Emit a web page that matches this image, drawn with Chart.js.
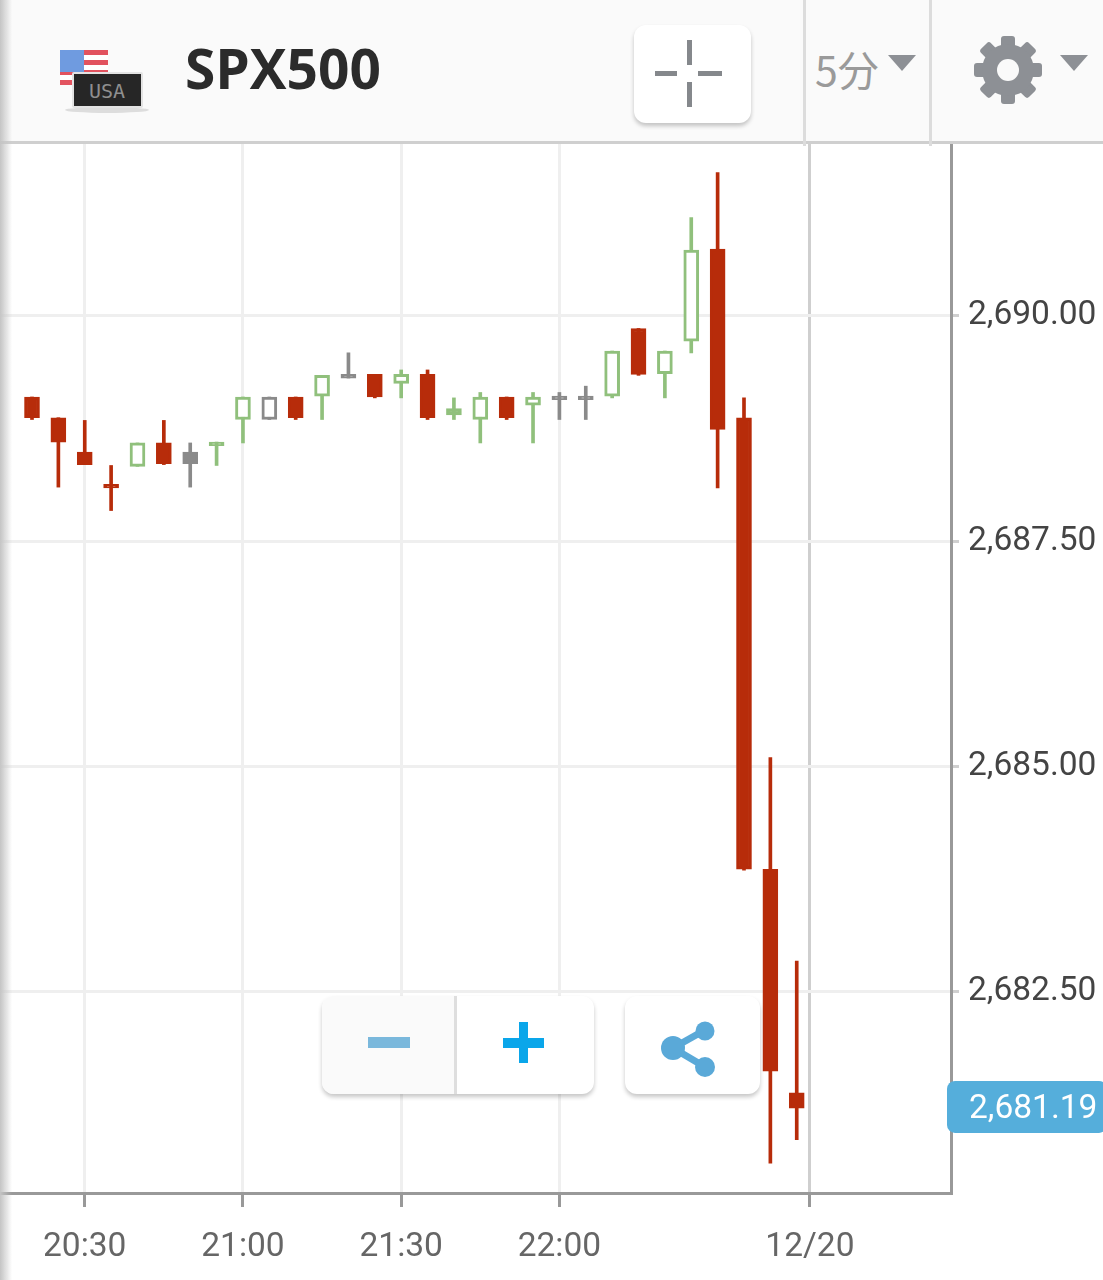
<!DOCTYPE html>
<html>
<head>
<meta charset="utf-8">
<script src="https://cdn.jsdelivr.net/npm/chart.js@4"></script>
<style>
  html, body { margin: 0; padding: 0; background: #fff; }
  #wrap { position: relative; width: 1103px; height: 1280px; overflow: hidden; }
  #priceChart { position: absolute; left: 0; top: 0; }
  .abs { position: absolute; }
  #header { left: 0; top: 0; width: 1103px; height: 141px; background: #fafafa; border-bottom: 3px solid #cfcfcf; }
  #title { left: 185px; top: 30px; font: bold 55px "Open Sans", sans-serif; color: #2b2b2b; line-height: 75px; }
  .sep { top: 0; width: 3px; height: 146px; background: #dcdcdc; }
  #interval { left: 815px; top: 39px; font: 41px "Noto Sans CJK JP", sans-serif; color: #9a9a9a; line-height: 58px; }
  .btn { background: #fff; border-radius: 12px; box-shadow: 0 3px 4px rgba(0,0,0,.22); }
  #shade { left: 0; top: 0; width: 12px; height: 1280px; background: linear-gradient(to right, #c4c4c4, rgba(255,255,255,0)); }
</style>
</head>
<body>
<div id="wrap">
  <canvas id="priceChart" width="1103" height="1280"></canvas>

  <div id="header" class="abs"></div>
  <svg class="abs" style="left:55px;top:45px" width="100" height="70" viewBox="0 0 100 70">
    <rect x="5" y="5" width="48" height="35" fill="#fff"/>
    <g fill="#e2535f">
      <rect x="5" y="5" width="48" height="5"/><rect x="5" y="15" width="48" height="5"/>
      <rect x="5" y="25" width="48" height="5"/><rect x="5" y="35" width="15" height="5"/>
    </g>
    <rect x="5" y="5" width="24" height="22" fill="#6f9be0"/>
    <ellipse cx="52" cy="65" rx="42" ry="3" fill="#ddd"/>
    <rect x="17" y="27" width="71" height="36" rx="2" fill="#e3e3e3"/>
    <rect x="19" y="29" width="67" height="32" fill="#262626"/>
    <text x="52" y="53" text-anchor="middle" font-family="DejaVu Sans Mono" font-size="20" fill="#8f8f8f">USA</text>
  </svg>
  <div id="title" class="abs">SPX500</div>
  <div class="abs btn" style="left:634px;top:25px;width:117px;height:98px"></div>
  <svg class="abs" style="left:650px;top:35px" width="80" height="76" viewBox="0 0 80 76">
    <g fill="#85888c">
      <rect x="37" y="5" width="5" height="25"/><rect x="37" y="47" width="5" height="25"/>
      <rect x="5" y="36" width="22" height="5"/><rect x="48" y="36" width="24" height="5"/>
    </g>
  </svg>
  <div class="abs sep" style="left:803px"></div>
  <div class="abs sep" style="left:929px"></div>
  <div id="interval" class="abs">5分</div>
  <svg class="abs" style="left:886px;top:53px" width="32" height="20"><path d="M2 2H30L16 18Z" fill="#8d9095"/></svg>
  <svg class="abs" style="left:970px;top:32px" width="76" height="76" viewBox="-38 -38 76 76">
    <g fill="#8d9095">
      <rect x="-7" y="-34" width="14" height="68" rx="3"/>
      <rect x="-7" y="-34" width="14" height="68" rx="3" transform="rotate(45)"/>
      <rect x="-7" y="-34" width="14" height="68" rx="3" transform="rotate(90)"/>
      <rect x="-7" y="-34" width="14" height="68" rx="3" transform="rotate(135)"/>
      <circle r="26"/>
    </g>
    <circle r="11" fill="#fafafa"/>
  </svg>
  <svg class="abs" style="left:1058px;top:53px" width="32" height="20"><path d="M2 2H30L16 18Z" fill="#8d9095"/></svg>

  <div class="abs btn" style="left:322px;top:996px;width:272px;height:98px;overflow:hidden">
    <div class="abs" style="left:0;top:0;width:132px;height:98px;background:#fafafa;border-right:3px solid #dedede"></div>
  </div>
  <svg class="abs" style="left:360px;top:1015px" width="190" height="55">
    <rect x="8" y="22" width="42" height="11" fill="#7ab8dc"/>
    <rect x="143" y="23" width="41" height="10" fill="#0aa6ea"/>
    <rect x="159" y="7" width="9" height="41" fill="#0aa6ea"/>
  </svg>
  <div class="abs btn" style="left:625px;top:996px;width:135px;height:98px"></div>
  <svg class="abs" style="left:655px;top:1015px" width="65" height="68">
    <g stroke="#5aa9d8" stroke-width="7" fill="#5aa9d8">
      <line x1="18" y1="33" x2="50" y2="15"/><line x1="18" y1="33" x2="50" y2="52"/>
    </g>
    <g fill="#5aa9d8"><circle cx="18" cy="33" r="12"/><circle cx="50" cy="16" r="9.5"/><circle cx="50" cy="52" r="10"/></g>
  </svg>
  <div id="shade" class="abs"></div>
</div>

<script>
// 5 minute candles, index 0 is the first candle on the left
const opens = [2689.10, 2688.87, 2688.49, 2688.13, 2688.33, 2688.59, 2688.49, 2688.60, 2688.85, 2688.85,
               2689.10, 2689.11, 2689.35, 2689.35, 2689.25, 2689.35, 2688.97, 2688.85, 2689.10, 2689.01,
               2689.11, 2689.11, 2689.11, 2689.86, 2689.36, 2689.72, 2690.74, 2688.87, 2683.86, 2681.38];
const closes = [2688.87, 2688.60, 2688.35, 2688.09, 2688.59, 2688.36, 2688.36, 2688.56, 2689.10, 2689.10,
                2688.87, 2689.34, 2689.31, 2689.10, 2689.35, 2688.87, 2688.90, 2689.10, 2688.87, 2689.10,
                2689.07, 2689.07, 2689.61, 2689.35, 2689.61, 2690.73, 2688.74, 2683.86, 2681.62, 2681.21];
const highs = [2689.10, 2688.87, 2688.84, 2688.34, 2688.59, 2688.84, 2688.59, 2688.60, 2689.10, 2689.10,
               2689.10, 2689.34, 2689.59, 2689.35, 2689.40, 2689.40, 2689.09, 2689.15, 2689.10, 2689.15,
               2689.15, 2689.22, 2689.61, 2689.86, 2689.61, 2691.09, 2691.59, 2689.09, 2685.10, 2682.84];
const lows = [2688.85, 2688.10, 2688.35, 2687.84, 2688.33, 2688.35, 2688.10, 2688.34, 2688.59, 2688.85,
              2688.85, 2688.85, 2689.31, 2689.09, 2689.09, 2688.85, 2688.85, 2688.59, 2688.85, 2688.59,
              2688.85, 2688.85, 2689.09, 2689.34, 2689.09, 2689.59, 2688.09, 2683.85, 2680.60, 2680.86];
const trend = ["down", "down", "down", "down", "up", "down", "flat", "up", "up", "flat",
               "down", "up", "flat", "down", "up", "down", "up", "up", "down", "up",
               "flat", "flat", "up", "down", "up", "up", "down", "down", "down", "down"];

const timeTicks = [2, 8, 14, 20, 29.5];
const timeLabels = ["20:30", "21:00", "21:30", "22:00", "12/20"];
const priceTicks = [2690, 2687.5, 2685, 2682.5];
const lastPrice = 2681.19;

const colors = { down: "#b72c0a", up: "#90c07c", flat: "#8a8a8a" };

function fmt(v) {
    return v.toLocaleString("en-US", { minimumFractionDigits: 2, maximumFractionDigits: 2 });
}

// price tag on the right axis
const lastPriceTag = {
    id: "lastPriceTag",
    afterDraw(chart) {
        const c = chart.ctx;
        const y = chart.scales.y.getPixelForValue(lastPrice) - 3;
        c.save();
        c.fillStyle = "#55aedb";
        c.beginPath();
        c.roundRect(947, y - 26, 160, 52, 8);
        c.fill();
        c.fillStyle = "#fff";
        c.font = '33.5px Roboto';
        c.textAlign = "left";
        c.textBaseline = "middle";
        c.fillText(fmt(lastPrice), 969, y + 3);
        c.restore();
    }
};

new Chart(document.getElementById("priceChart").getContext("2d"), {
    type: "bar",
    plugins: [lastPriceTag],
    data: {
        datasets: [
            {
                label: "body",
                data: opens.map((o, i) => ({ x: i, y: [o, closes[i]] })),
                grouped: false,
                barThickness: 15,
                borderSkipped: false,
                borderWidth: 3,
                borderColor: (ctx) => colors[trend[ctx.dataIndex]],
                backgroundColor: (ctx) => closes[ctx.dataIndex] > opens[ctx.dataIndex] ? "#fff" : colors[trend[ctx.dataIndex]]
            },
            {
                label: "wick",
                data: lows.map((l, i) => ({ x: i, y: [l, highs[i]] })),
                grouped: false,
                barThickness: 3,
                borderWidth: 0,
                backgroundColor: (ctx) => colors[trend[ctx.dataIndex]]
            }
        ]
    },
    options: {
        responsive: false,
        animation: false,
        devicePixelRatio: 1,
        layout: { padding: { top: 143, left: 0, right: 0, bottom: 0 } },
        plugins: { legend: { display: false }, tooltip: { enabled: false } },
        scales: {
            x: {
                type: "linear",
                offset: false,
                min: -1.2135,
                max: 34.85,
                afterBuildTicks: (axis) => { axis.ticks = timeTicks.map((v) => ({ value: v })); },
                afterFit: (axis) => { axis.height = 87; },
                grid: {
                    offset: false,
                    color: (ctx) => ctx.index === 4 ? "#cfcfcf" : "#efefef",
                    lineWidth: 3,
                    tickColor: "#999",
                    tickLength: 14
                },
                border: { color: "#999", width: 3 },
                ticks: {
                    autoSkip: false,
                    maxRotation: 0,
                    padding: 21,
                    color: "#666",
                    font: { family: "Roboto", size: 33.5 },
                    callback: (v) => timeLabels[timeTicks.indexOf(v)]
                }
            },
            y: {
                position: "right",
                min: 2680.268,
                max: 2691.918,
                afterBuildTicks: (axis) => { axis.ticks = priceTicks.map((v) => ({ value: v })); },
                afterFit: (axis) => { axis.width = 152; },
                grid: { color: "#efefef", lineWidth: 3, tickColor: "#cfcfcf", tickLength: 8 },
                border: { color: "#999", width: 3 },
                ticks: {
                    padding: 9,
                    color: "#444",
                    font: { family: "Roboto", size: 33.5 },
                    callback: (v) => fmt(v)
                }
            }
        }
    }
});
</script>
</body>
</html>
